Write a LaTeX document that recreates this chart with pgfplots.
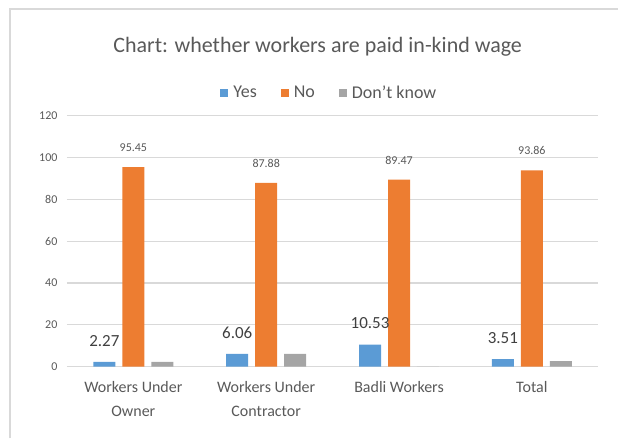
\documentclass[border=0pt]{standalone}
\usepackage{fontspec}
\setmainfont{Carlito}
\usepackage{pgfplots}
\pgfplotsset{compat=1.18}
\definecolor{xlblue}{HTML}{5B9BD5}
\definecolor{xlorange}{HTML}{ED7D31}
\definecolor{xlgray}{HTML}{A5A5A5}
\definecolor{txtgray}{HTML}{595959}
\definecolor{lblgray}{HTML}{404040}
\definecolor{gridgray}{HTML}{D9D9D9}
\pgfplotsset{sqleg/.style={legend image code/.code={\fill[##1] (0pt,-4pt) rectangle (8pt,4pt); \path (11pt,0pt);}}}
\begin{document}
\begin{tikzpicture}
\path (0pt,0pt) rectangle (619pt,439pt);
\draw[gridgray,line width=1.5pt] (10pt,0pt) -- (10pt,430pt) -- (619pt,430pt);
\node[font=\fontsize{22}{26}\selectfont,txtgray] at (318pt,392pt) {Chart: whether workers are paid in-kind wage};
\begin{axis}[
    at={(67pt,72pt)}, anchor=south west,
    scale only axis,
    width=532pt, height=251pt,
    ybar=7pt, bar width=22pt,
    xmin=-0.5, xmax=3.5,
    ymin=0, ymax=120,
    ytick={0,20,...,120},
    xtick=data,
    xticklabels={Workers Under\\Owner,Workers Under\\Contractor,Badli Workers,Total},
    xticklabel style={font=\fontsize{16}{24}\selectfont,txtgray,align=center,yshift=-11pt},
    yticklabel style={font=\fontsize{12}{14}\selectfont,txtgray,xshift=-6pt},
    /pgf/number format/assume math mode=true,
    major tick length=0pt,
    ymajorgrids, major grid style={gridgray,line width=1.2pt},
    axis x line*=bottom, axis y line*=left,
    x axis line style={gridgray,line width=1.2pt,-},
    y axis line style={draw=none},
    legend style={at={(0.494,1.092)},anchor=center,draw=none,fill=none,
      font=\fontsize{18}{20}\selectfont,text=txtgray,legend columns=-1,
      /tikz/every even column/.append style={column sep=22pt}},
    legend cell align=left,
]
\addplot[sqleg,fill=xlblue,draw=none,nodes near coords,
  every node near coord/.append style={font=\fontsize{17}{19}\selectfont,lblgray,yshift=12pt}]
  coordinates {(0,2.27) (1,6.06) (2,10.53) (3,3.51)};
\addplot[sqleg,fill=xlorange,draw=none,nodes near coords,
  every node near coord/.append style={font=\fontsize{12}{14}\selectfont,txtgray,yshift=12pt}]
  coordinates {(0,95.45) (1,87.88) (2,89.47) (3,93.86)};
\addplot[sqleg,fill=xlgray,draw=none]
  coordinates {(0,2.28) (1,6.06) (2,0) (3,2.63)};
\legend{Yes,No,Don't know}
\end{axis}
\end{tikzpicture}
\end{document}
